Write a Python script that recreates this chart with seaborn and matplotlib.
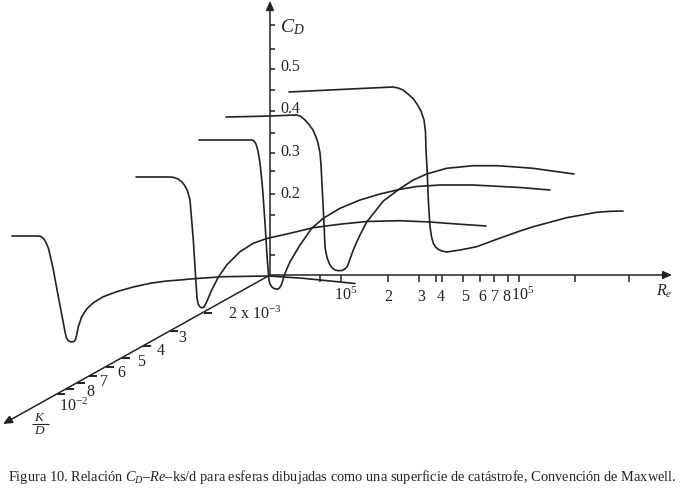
import matplotlib
matplotlib.use("Agg")
import matplotlib.pyplot as plt
import pandas as pd
import seaborn as sns

# coordenadas, el eje se dibuja en el plano de la imagen
curva_a_x = [12, 25, 38, 41, 43.5, 46, 48.5, 53, 58, 63, 65, 66.5, 68.5, 71.5, 74, 75.5, 76.7, 78.3, 81.7, 86.7, 93.3, 103.3, 116.7, 133.3, 150, 166.7, 180, 190, 223, 269, 303, 355]
curva_a_y = [236, 236, 236, 236.5, 238.5, 242.5, 248.5, 268, 295, 321, 332, 338, 341, 342, 341.5, 339.5, 335, 326.7, 316.7, 309, 302.7, 296.7, 291.7, 287, 283.3, 281, 280, 279, 276.7, 276, 278.3, 283.5]

curva_b_x = [136, 155, 170, 174, 178, 182, 185, 187.5, 190, 193.3, 196, 197, 198.2, 200, 202, 204, 206.7, 211.7, 218.3, 226.7, 240, 253.3, 266.7, 290, 313.3, 340, 366.7, 400, 430, 456.7, 486]
curva_b_y = [177, 177, 177, 177.5, 179, 182, 186, 191, 200, 240, 283, 298, 304, 307, 307.8, 307, 301.7, 290, 277.3, 265, 251.7, 243.3, 238.5, 233.3, 227.7, 224.2, 221.5, 220.7, 222, 224, 226]

curva_c_x = [199, 225, 252, 254, 256, 258, 260, 261.5, 262.7, 265, 267.3, 269, 270, 271.7, 274, 277.3, 279.5, 281.5, 285, 290, 300, 311.7, 323.3, 340, 360, 380, 400, 416.7, 440, 473, 520, 550]
curva_c_y = [140, 140, 140, 141, 144, 151, 163, 177, 190, 223, 260, 280, 284, 286.7, 288.5, 289.3, 288, 284.5, 273.3, 261.7, 245, 228.3, 218.3, 208.3, 200, 194, 189.3, 186.5, 185, 185, 187.5, 190]

curva_d_x = [226, 250, 270, 297, 301, 305, 309, 313, 316, 318, 320, 321, 322.3, 324, 325, 326, 327.3, 329.5, 331.7, 335, 338.3, 342, 345, 347.5, 349.3, 353.3, 356.7, 360, 366.7, 383.3, 400, 413.3, 426.7, 446.7, 473.3, 496.7, 520, 533, 574]
curva_d_y = [117, 116.5, 116, 115, 116.5, 120, 124.5, 130, 137, 143, 153, 165, 190, 223.3, 246.7, 253, 258.3, 264, 267.5, 270, 270.7, 270.5, 269, 266, 261, 250, 242, 235, 222, 201, 188.5, 180, 174, 168.3, 165.7, 165.7, 167.3, 168.3, 174]

curva_e_x = [289, 340, 393, 398, 403, 408, 413, 417, 421, 424, 425.5, 426, 427.3, 428.3, 430, 431.5, 433.3, 435.5, 438.3, 442, 446.7, 460, 476.7, 496.7, 520, 533.3, 566.7, 596.7, 610, 623]
curva_e_y = [92, 89.5, 87, 88, 90, 94, 98.5, 104, 111, 120, 132, 150, 173, 200, 226.7, 236.5, 243.3, 247, 249.3, 251, 252, 250, 246.7, 239.3, 231, 226.7, 217.7, 212.3, 211.3, 211]

curvas = {"a": (curva_a_x, curva_a_y), "b": (curva_b_x, curva_b_y), "c": (curva_c_x, curva_c_y),
          "d": (curva_d_x, curva_d_y), "e": (curva_e_x, curva_e_y)}

# marcas de los ejes
ticks_cd = [25, 49, 69, 90, 111, 133, 153, 171, 194, 215, 255]
etiquetas_cd = {"0.5": 67, "0.4": 109, "0.3": 152, "0.2": 194}
ticks_re = [320, 341, 388, 419, 436, 442, 463, 480, 494, 508, 519, 575, 629]
etiquetas_re = {"2": 388, "3": 421, "4": 441, "5": 465, "6": 482, "7": 495, "8": 506}
ticks_kd_x = [204, 170, 143, 122, 106, 89, 77, 66, 57]
ticks_kd_y = [312.7, 330.7, 346, 357.7, 366.7, 375.7, 382.7, 388.7, 393.7]
etiquetas_kd = {"3": (182, 338), "4": (161, 351), "5": (141, 362), "6": (121, 373), "7": (104, 382), "8": (90, 392)}

titulo = "Figura 10. Relación $C_D$–$Re$–ks/d para esferas dibujadas como una superficie de catástrofe, Convención de Maxwell."

sns.set_theme(style="white")
plt.rcParams["font.family"] = ["Liberation Serif", "DejaVu Serif"]
plt.rcParams["mathtext.fontset"] = "custom"
plt.rcParams["mathtext.rm"] = "Liberation Serif"
plt.rcParams["mathtext.it"] = "Liberation Serif:italic"
negro = "#222222"

filas = []
for nombre, (xs, ys) in curvas.items():
    filas.append(pd.DataFrame({"curva": nombre, "x": xs, "y": ys}))
datos = pd.concat(filas)

fig = plt.figure(figsize=(6.81, 4.90), dpi=100)
graf = fig.add_axes([0, 0, 1, 1])
sns.lineplot(data=datos, x="x", y="y", units="curva", estimator=None, sort=False,
             color=negro, linewidth=1.2, ax=graf)
graf.set_xlim(0, 681)
graf.set_ylim(490, 0)
graf.axis("off")

# ejes con flecha
for fin in [(270, 1), (672, 275), (3, 424)]:
    graf.annotate("", xy=fin, xytext=(270, 275),
                  arrowprops=dict(arrowstyle="-|>,head_length=0.45,head_width=0.2", color=negro, lw=1.1,
                                  shrinkA=0, shrinkB=0))

graf.hlines(ticks_cd, 270, 275, color=negro, lw=1.1)
graf.vlines(ticks_re, 275, 282, color=negro, lw=1.1)
graf.hlines(ticks_kd_y, ticks_kd_x, [x + 8 for x in ticks_kd_x], color=negro, lw=1.4)

tam = 11.5
for txt, y in etiquetas_cd.items():
    graf.text(280, y, txt, fontsize=tam, color=negro, va="center", ha="left")
for txt, x in etiquetas_re.items():
    graf.text(x, 297, txt, fontsize=tam, color=negro, va="center", ha="center")
for txt, (x, y) in etiquetas_kd.items():
    graf.text(x, y, txt, fontsize=tam, color=negro, va="center", ha="center")

graf.text(346, 295, "$\\mathrm{10^5}$", fontsize=tam, color=negro, va="center", ha="center")
graf.text(523, 295, "$\\mathrm{10^5}$", fontsize=tam, color=negro, va="center", ha="center")
graf.text(664, 291, "$R_e$", fontsize=tam, color=negro, va="center", ha="center")
graf.text(280, 27, "$C_D$", fontsize=14, color=negro, va="center", ha="left")
graf.text(228, 314, "2 x $\\mathrm{10^{-3}}$", fontsize=tam, color=negro, va="center", ha="left")
graf.text(74, 406, "$\\mathrm{10^{-2}}$", fontsize=tam, color=negro, va="center", ha="center")

# K/D
graf.text(40, 418, "$K$", fontsize=9.5, color=negro, va="center", ha="center")
graf.hlines([424], 32, 49, color=negro, lw=0.8)
graf.text(40, 431, "$D$", fontsize=9.5, color=negro, va="center", ha="center")

graf.text(8, 477, titulo, fontsize=10.4, color=negro, va="center", ha="left")

fig.savefig("out.png", dpi=100, facecolor="white")
